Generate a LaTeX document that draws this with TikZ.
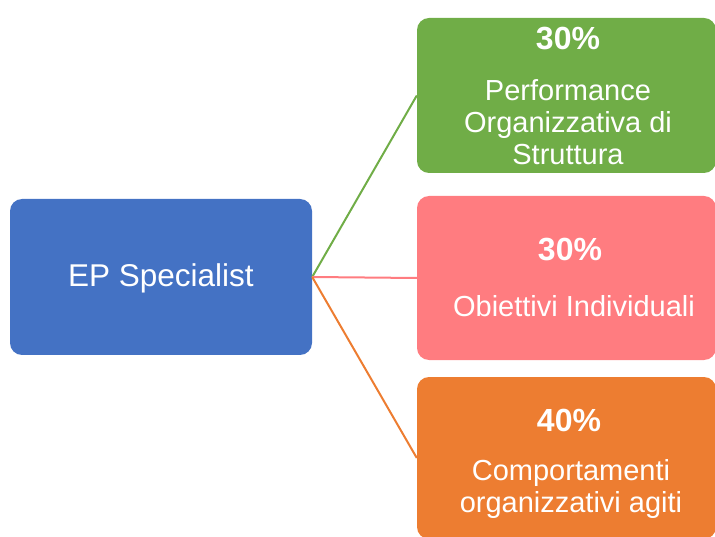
\documentclass[tikz,border=0pt]{standalone}
\usepackage{fontspec}
\setmainfont{Liberation Sans}
\usepackage{tikz}

\definecolor{epblue}{HTML}{4472C4}
\definecolor{epgreen}{HTML}{70AD47}
\definecolor{eppink}{HTML}{FF7C80}
\definecolor{eporange}{HTML}{ED7D31}

\begin{document}
\begin{tikzpicture}[x=1pt,y=-1pt,
	box/.style={shape=rectangle,rounded corners=12pt,inner sep=0pt,minimum width=299pt},
	pct/.style={text=white,anchor=base,inner sep=0pt,font=\fontsize{32}{38}\selectfont\bfseries},
	txt/.style={text=white,anchor=base,inner sep=0pt,align=center,font=\fontsize{29}{32}\selectfont},
	link/.style={line width=2pt}]
	\useasboundingbox (0,0) rectangle (715,537);

	\node[box,fill=epblue,minimum width=302pt,minimum height=156pt] (ep) at (161,277) {};
	\node[box,fill=epgreen,minimum height=155pt]  (perf) at (566.5,95.5) {};
	\node[box,fill=eppink,minimum height=164pt]   (obie) at (566.5,278)  {};
	\node[box,fill=eporange,minimum height=162pt] (comp) at (566.5,458)  {};

	% base of a multi-line text = its last line
	\node[txt,font=\fontsize{31.5}{36}\selectfont] (eptxt) at (161,287) {EP Specialist};
	\node[pct] (perfpct) at (568,50)  {30\%};
	\node[txt] (perftxt) at (568,165) {Performance\\Organizzativa di\\Struttura};
	\node[pct] (obiepct) at (570,261) {30\%};
	\node[txt] (obietxt) at (574,317) {Obiettivi Individuali};
	\node[pct] (comppct) at (569,431) {40\%};
	\node[txt] (comptxt) at (571,512) {Comportamenti\\organizzativi agiti};

	\path[link,draw=epgreen]  (ep.east) edge (perf.west);
	\path[link,draw=eppink]   (ep.east) edge (obie.west);
	\path[link,draw=eporange] (ep.east) edge (comp.west);

\end{tikzpicture}
\end{document}
